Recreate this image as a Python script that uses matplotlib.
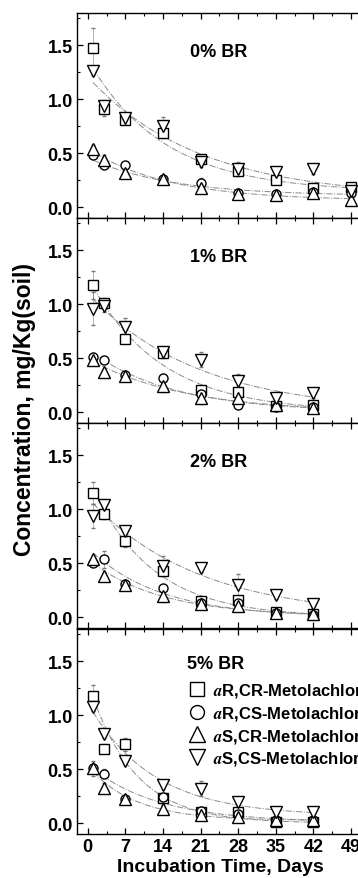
import numpy as np
import matplotlib
matplotlib.use("Agg")
import matplotlib.pyplot as plt
from matplotlib.ticker import MultipleLocator, FormatStrFormatter
from matplotlib.lines import Line2D

plt.rcParams['font.family'] = ['Liberation Sans', 'DejaVu Sans']
plt.rcParams['font.weight'] = 'bold'
plt.rcParams['mathtext.fontset'] = 'stix'

panels = ["0% BR", "1% BR", "2% BR", "5% BR"]
days_long = [1, 3, 7, 14, 21, 28, 35, 42, 49]
days_short = [1, 3, 7, 14, 21, 28, 35, 42]

series_names = ["$a$R,CR-Metolachlor", "$a$R,CS-Metolachlor",
                "$a$S,CR-Metolachlor", "$a$S,CS-Metolachlor"]
markers = ['s', 'o', '^', 'v']

# 0% BR
p0_rcr = [1.48, 0.91, 0.81, 0.685, 0.45, 0.34, 0.25, 0.18, 0.19]
p0_rcs = [0.485, 0.39, 0.39, 0.26, 0.22, 0.13, 0.12, 0.14, 0.13]
p0_scr = [0.54, 0.44, 0.32, 0.26, 0.175, 0.12, 0.115, 0.13, 0.07]
p0_scs = [1.26, 0.94, 0.83, 0.75, 0.42, 0.355, 0.325, 0.355, 0.15]
e0_rcr = [0.18, 0.06, 0.04, 0.04, 0.03, 0.05, 0.03, 0.04, 0.03]
e0_rcs = [0.03, 0.03, 0.03, 0.03, 0.05, 0.03, 0.03, 0.03, 0.03]
e0_scr = [0.04, 0.04, 0.04, 0.03, 0.04, 0.04, 0.03, 0.04, 0.04]
e0_scs = [0.03, 0.05, 0.04, 0.09, 0.05, 0.06, 0.04, 0.05, 0.04]

# 1% BR
p1_rcr = [1.18, 1.01, 0.68, 0.545, 0.21, 0.19, 0.06, 0.07]
p1_rcs = [0.515, 0.485, 0.345, 0.315, 0.17, 0.07, 0.05, 0.05]
p1_scr = [0.485, 0.375, 0.34, 0.24, 0.13, 0.13, 0.07, 0.04]
p1_scs = [0.96, 0.98, 0.79, 0.56, 0.485, 0.285, 0.13, 0.175]
e1_rcr = [0.13, 0.05, 0.04, 0.04, 0.03, 0.03, 0.03, 0.03]
e1_rcs = [0.03, 0.03, 0.03, 0.04, 0.03, 0.03, 0.03, 0.03]
e1_scr = [0.04, 0.03, 0.03, 0.05, 0.05, 0.04, 0.04, 0.03]
e1_scs = [0.15, 0.05, 0.08, 0.05, 0.07, 0.07, 0.04, 0.04]

# 2% BR
p2_rcr = [1.15, 0.96, 0.705, 0.43, 0.15, 0.16, 0.05, 0.03]
p2_rcs = [0.505, 0.535, 0.31, 0.27, 0.13, 0.13, 0.04, 0.02]
p2_scr = [0.54, 0.38, 0.30, 0.195, 0.12, 0.10, 0.04, 0.03]
p2_scs = [0.94, 1.04, 0.80, 0.475, 0.46, 0.30, 0.21, 0.12]
e2_rcr = [0.10, 0.05, 0.05, 0.04, 0.03, 0.03, 0.03, 0.03]
e2_rcs = [0.03, 0.08, 0.03, 0.04, 0.03, 0.03, 0.03, 0.03]
e2_scr = [0.04, 0.03, 0.04, 0.05, 0.03, 0.03, 0.03, 0.03]
e2_scs = [0.11, 0.05, 0.05, 0.09, 0.04, 0.10, 0.04, 0.04]

# 5% BR
p3_rcr = [1.18, 0.69, 0.73, 0.23, 0.10, 0.10, 0.01, 0.01]
p3_rcs = [0.51, 0.46, 0.22, 0.24, 0.117, 0.09, 0.03, 0.03]
p3_scr = [0.51, 0.33, 0.22, 0.13, 0.08, 0.06, 0.03, 0.03]
p3_scs = [1.08, 0.83, 0.58, 0.355, 0.32, 0.195, 0.105, 0.10]
e3_rcr = [0.10, 0.04, 0.06, 0.04, 0.03, 0.03, 0.03, 0.03]
e3_rcs = [0.03, 0.04, 0.03, 0.04, 0.03, 0.03, 0.03, 0.03]
e3_scr = [0.07, 0.04, 0.03, 0.04, 0.03, 0.03, 0.03, 0.03]
e3_scs = [0.04, 0.04, 0.04, 0.04, 0.07, 0.05, 0.04, 0.04]

panel_data = [
    (days_long, [p0_rcr, p0_rcs, p0_scr, p0_scs], [e0_rcr, e0_rcs, e0_scr, e0_scs]),
    (days_short, [p1_rcr, p1_rcs, p1_scr, p1_scs], [e1_rcr, e1_rcs, e1_scr, e1_scs]),
    (days_short, [p2_rcr, p2_rcs, p2_scr, p2_scs], [e2_rcr, e2_rcs, e2_scr, e2_scs]),
    (days_short, [p3_rcr, p3_rcs, p3_scr, p3_scs], [e3_rcr, e3_rcs, e3_scr, e3_scs]),
]


def fit_decay(t, y):
    t = np.asarray(t, float)
    y = np.asarray(y, float)
    best = None
    for c in np.linspace(0, y.min() * 0.95, 40):
        p = np.polyfit(t, np.log(y - c), 1)
        pred = np.exp(p[1] + p[0] * t) + c
        sse = ((pred - y) ** 2).sum()
        if best is None or sse < best[0]:
            best = (sse, p, c)
    _, p, c = best
    return lambda tt: np.exp(p[1] + p[0] * tt) + c


W, H = 358, 879
fig = plt.figure(figsize=(W / 100, H / 100), dpi=100)
left = 77 / W
right_px = 88 + 52 * 5.367
ax_w = (right_px - 77) / W
tops = [14, 219, 424, 630]
ph = 205

axes = []
for i in range(4):
    bottom = 1 - (tops[i] + ph) / H
    ax = fig.add_axes([left, bottom, ax_w, ph / H])
    axes.append(ax)
    t, ys, es = panel_data[i]
    for j in range(4):
        f = fit_decay(t, ys[j])
        tt = np.linspace(t[0], t[-1], 200)
        ax.plot(tt, f(tt), color='#8a8a8a', lw=0.7, ls='-.', zorder=1)
    for j in range(4):
        ax.errorbar(t, ys[j], yerr=es[j], fmt=markers[j], mfc='white', mec='black',
                    mew=1.0, ms=6.5 if markers[j] in ('s', 'o') else 8,
                    ecolor='#777777', elinewidth=0.4, capsize=1.5, capthick=0.8,
                    zorder=3)
    ax.set_xlim(-2, 52)
    ax.set_ylim(-0.1, 1.8)
    ax.xaxis.set_major_locator(MultipleLocator(7))
    ax.xaxis.set_minor_locator(MultipleLocator(3.5))
    ax.yaxis.set_major_locator(MultipleLocator(0.5))
    ax.yaxis.set_minor_locator(MultipleLocator(0.25))
    ax.yaxis.set_major_formatter(FormatStrFormatter('%.1f'))
    ax.tick_params(which='both', direction='in', top=True, right=True)
    ax.tick_params(which='major', length=4, width=0.9, labelsize=13, pad=3)
    ax.tick_params(which='minor', length=2, width=0.8)
    for s in ax.spines.values():
        s.set_linewidth(1.0)
    if i < 3:
        ax.tick_params(labelbottom=False)
    ax.text(0.39 if i < 3 else 0.38, 0.81 if i < 3 else 0.83, panels[i],
            transform=ax.transAxes, ha='left', va='center', fontsize=13,
            fontweight='bold')
    for lab in ax.get_yticklabels() + ax.get_xticklabels():
        lab.set_fontweight('bold')

handles = [Line2D([], [], ls='none', marker=m, mfc='white', mec='black', mew=1.0,
                  ms=10 if m in ('s', 'o') else 11) for m in markers]
axes[3].legend(handles, series_names, loc='upper left', bbox_to_anchor=(0.385, 0.745),
               frameon=False, handlelength=1.0, handletextpad=0.45,
               labelspacing=0.28, borderpad=0, borderaxespad=0,
               prop={'weight': 'bold', 'size': 12})

fig.text(25 / W, 1 - 409 / H, "Concentration, mg/Kg(soil)", rotation=90,
         ha='center', va='center', fontsize=16.5, fontweight='bold')
fig.text(220 / W, 1 - 868 / H, "Incubation Time, Days", ha='center', va='center',
         fontsize=14, fontweight='bold')

fig.savefig("out.png", dpi=100)
